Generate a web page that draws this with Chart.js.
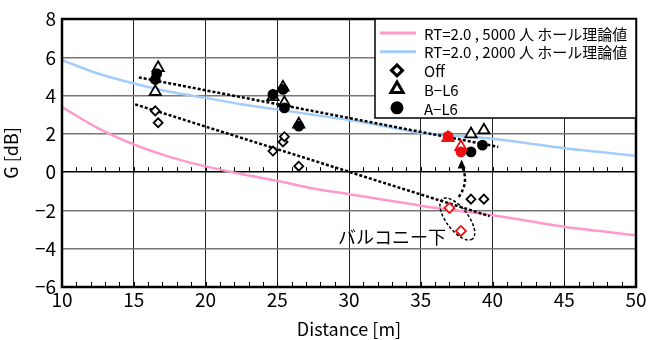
<!DOCTYPE html>
<html>
<head>
<meta charset="utf-8">
<script src="https://cdn.jsdelivr.net/npm/chart.js@4/dist/chart.umd.min.js"></script>
<style>
  html, body { margin: 0; padding: 0; background: #fff; }
  #wrap { width: 655px; height: 340px; }
</style>
</head>
<body>
<div id="wrap"><canvas id="chart" width="655" height="340"></canvas></div>
<script>
// --- Theory curves (RT=2.0) ---
let curveX   = [10, 12.5, 15, 17.5, 20, 22.5, 25, 27.5, 30, 32.5, 35, 37.5, 40, 42.5, 45, 47.5, 50];
let hall5000 = [3.4, 2.3, 1.45, 0.8, 0.3, -0.1, -0.45, -0.85, -1.15, -1.45, -1.75, -2.0, -2.25, -2.55, -2.85, -3.08, -3.3];
let hall2000 = [5.85, 5.15, 4.63, 4.2, 3.88, 3.55, 3.27, 3.0, 2.72, 2.4, 2.05, 1.9, 1.75, 1.5, 1.25, 1.05, 0.85];

// --- Measured ---
let offX = [16.5, 16.7, 24.7, 25.4, 25.5, 26.5, 38.5, 39.4];
let offY = [3.2, 2.58, 1.1, 1.58, 1.85, 0.31, -1.41, -1.41];
let bX   = [16.7, 16.5, 24.7, 25.4, 25.5, 26.5, 38.5, 39.4];
let bY   = [5.45, 4.2, 3.93, 4.43, 3.62, 2.5, 1.99, 2.19];
let aX   = [16.6, 16.5, 24.7, 25.4, 25.5, 26.5, 38.5, 39.3];
let aY   = [5.15, 4.84, 4.06, 4.32, 3.36, 2.4, 1.06, 1.41];

// balcony-under seats (red)
let redOffX = [37.0, 37.8];
let redOffY = [-1.87, -3.07];
let redBX   = [36.9, 37.8];
let redBY   = [1.79, 1.32];
let redAX   = [36.9, 37.8];
let redAY   = [1.87, 1.06];

// --- Trend lines ---
let trendUpperX = [15.35, 40.4];
let trendUpperY = [4.95, 1.32];
let trendLowerX = [15.1, 39.8];
let trendLowerY = [3.54, -2.3];

// --- Axis ticks ---
let xTicks = [10, 15, 20, 25, 30, 35, 40, 45, 50];
let yTicks = [-6, -4, -2, 0, 2, 4, 6, 8];

let labels = ["RT=2.0 , 5000 人 ホール理論値", "RT=2.0 , 2000 人 ホール理論値", "Off", "B\u2212L6", "A\u2212L6"];
let noteText = "バルコニー下";

const FONT = "'Noto Sans CJK JP', 'Liberation Sans', sans-serif";
const PINK = "#ff99cc";
const BLUE = "#a3cdfa";
const RED = "#ee1111";

function pts(xs, ys) {
  return xs.map((x, i) => ({x: x, y: ys[i]}));
}

// --- Extra drawing: minor ticks, frame, balcony note, legend ---
const overlay = {
  id: "overlay",
  beforeDatasetsDraw(chart) {
    let ctx = chart.ctx, xs = chart.scales.x, ys = chart.scales.y;
    ctx.save();
    ctx.strokeStyle = "#000";
    ctx.lineWidth = 1;
    [0, -6].forEach(v => {
      let py = ys.getPixelForValue(v);
      for (let t = 10; t <= 50; t++) {
        let px = Math.round(xs.getPixelForValue(t)) + 0.5;
        ctx.beginPath();
        ctx.moveTo(px, py);
        ctx.lineTo(px, py - 5);
        ctx.stroke();
      }
    });
    ctx.restore();
  },
  afterDatasetsDraw(chart) {
    let ctx = chart.ctx, xs = chart.scales.x, ys = chart.scales.y;
    let a = chart.chartArea;
    ctx.save();

    // balcony ellipse
    let cx = xs.getPixelForValue(37.55), cy = ys.getPixelForValue(-2.45);
    ctx.setLineDash([3, 2]);
    ctx.lineWidth = 1.5;
    ctx.strokeStyle = "#000";
    ctx.beginPath();
    ctx.ellipse(cx, cy, 25, 11, 53 * Math.PI / 180, 0, Math.PI * 2);
    ctx.stroke();

    // curved dashed arrow
    let x0 = xs.getPixelForValue(37.65), y0 = ys.getPixelForValue(-1.3);
    let x1 = xs.getPixelForValue(37.85), y1 = ys.getPixelForValue(0.55);
    let qx = xs.getPixelForValue(38.4), qy = ys.getPixelForValue(-0.5);
    ctx.lineWidth = 2.5;
    ctx.setLineDash([3, 2.5]);
    ctx.beginPath();
    ctx.moveTo(x0, y0);
    ctx.quadraticCurveTo(qx, qy, x1, y1 + 4);
    ctx.stroke();
    ctx.setLineDash([]);
    ctx.fillStyle = "#000";
    ctx.beginPath();
    ctx.moveTo(x1, y1 - 2);
    ctx.lineTo(x1 - 4, y1 + 7);
    ctx.lineTo(x1 + 4, y1 + 7);
    ctx.closePath();
    ctx.fill();

    // note text
    ctx.font = "18px " + FONT;
    ctx.textAlign = "center";
    ctx.textBaseline = "middle";
    ctx.fillText(noteText, xs.getPixelForValue(33.0), ys.getPixelForValue(-3.4));

    // frame
    ctx.lineWidth = 2.5;
    ctx.strokeRect(a.left, a.top, a.right - a.left, a.bottom - a.top);

    // legend
    let lx = 375, ly = a.top, lw = a.right - lx, lh = 99;
    ctx.fillStyle = "#fff";
    ctx.fillRect(lx, ly, lw, lh);
    ctx.lineWidth = 1.5;
    ctx.strokeRect(lx, ly, lw, lh);
    ctx.font = "15px " + FONT;
    ctx.textAlign = "left";
    let rowH = 18.7, y = ly + 14;
    let styles = [
      {line: PINK}, {line: BLUE},
      {point: "rectRot", r: 5.5, fill: "#fff"},
      {point: "triangle", r: 7, fill: "#fff"},
      {point: "circle", r: 5, fill: "#000"}
    ];
    styles.forEach((s, i) => {
      if (s.line) {
        ctx.strokeStyle = s.line;
        ctx.lineWidth = 3;
        ctx.beginPath();
        ctx.moveTo(lx + 5, y);
        ctx.lineTo(lx + 41, y);
        ctx.stroke();
      } else {
        ctx.strokeStyle = "#000";
        ctx.fillStyle = s.fill;
        Chart.helpers.drawPoint(ctx, {pointStyle: s.point, radius: s.r, borderWidth: 2, rotation: 0}, lx + 22, y);
      }
      ctx.fillStyle = "#000";
      ctx.fillText(labels[i], lx + 49, y + 1);
      y += rowH;
    });
    ctx.restore();
  }
};

function markerSet(label, xs, ys, style, r, fill, stroke, order) {
  return {
    label: label,
    data: pts(xs, ys),
    pointStyle: style,
    pointRadius: r,
    pointBorderWidth: 1.8,
    pointBackgroundColor: fill,
    pointBorderColor: stroke,
    showLine: false,
    order: order
  };
}

function lineSet(label, xs, ys, color, width, dash, order) {
  return {
    label: label,
    data: pts(xs, ys),
    showLine: true,
    borderColor: color,
    borderWidth: width,
    borderDash: dash,
    pointRadius: 0,
    fill: false,
    cubicInterpolationMode: "monotone",
    order: order
  };
}

// minus sign like the original
const minusFmt = v => String(v).replace("-", "\u2212");

new Chart(document.getElementById("chart").getContext("2d"), {
  type: "scatter",
  data: {
    datasets: [
      lineSet(labels[0], curveX, hall5000, PINK, 2.5, [], 20),
      lineSet(labels[1], curveX, hall2000, BLUE, 2.5, [], 19),
      lineSet("trend1", trendUpperX, trendUpperY, "#000", 2.5, [3, 2], 15),
      lineSet("trend2", trendLowerX, trendLowerY, "#000", 2.5, [3, 2], 14),
      markerSet(labels[2], offX, offY, "rectRot", 4.5, "#fff", "#000", 10),
      markerSet(labels[3], bX, bY, "triangle", 6.5, "#fff", "#000", 9),
      markerSet(labels[4], aX, aY, "circle", 4.5, "#000", "#000", 8),
      markerSet("off-red", redOffX, redOffY, "rectRot", 5, "#fff", RED, 7),
      markerSet("a-red", redAX, redAY, "circle", 4.5, RED, RED, 6),
      markerSet("b-red", redBX, redBY, "triangle", 6.5, "rgba(0,0,0,0)", RED, 5)
    ]
  },
  options: {
    responsive: false,
    animation: false,
    events: [],
    layout: { padding: { top: 19, right: 19, left: 0, bottom: 0 } },
    plugins: { legend: { display: false }, tooltip: { enabled: false } },
    scales: {
      x: {
        type: "linear",
        min: 10, max: 50,
        afterBuildTicks: s => { s.ticks = xTicks.map(v => ({value: v})); },
        afterFit: s => { s.height = 53; },
        ticks: { color: "#000", font: { family: FONT, size: 19 }, padding: 1, maxRotation: 0, callback: minusFmt },
        grid: { color: "#222", lineWidth: 1, drawTicks: false },
        border: { display: false },
        title: { display: true, text: "Distance [m]", color: "#000", font: { family: FONT, size: 18 }, padding: { top: 0, bottom: 0 } }
      },
      y: {
        type: "linear",
        min: -6, max: 8,
        afterBuildTicks: s => { s.ticks = yTicks.map(v => ({value: v})); },
        afterFit: s => { s.width = 62; },
        ticks: { color: "#000", font: { family: FONT, size: 19 }, padding: 6, callback: minusFmt },
        grid: {
          color: c => (c.tick && c.tick.value === 0) ? "#000" : "#777",
          lineWidth: 1.5,
          drawTicks: false
        },
        border: { display: false },
        title: { display: true, text: "G [dB]", color: "#000", font: { family: FONT, size: 18 }, padding: { top: 0, bottom: 0 } }
      }
    }
  },
  plugins: [overlay]
});
</script>
</body>
</html>
